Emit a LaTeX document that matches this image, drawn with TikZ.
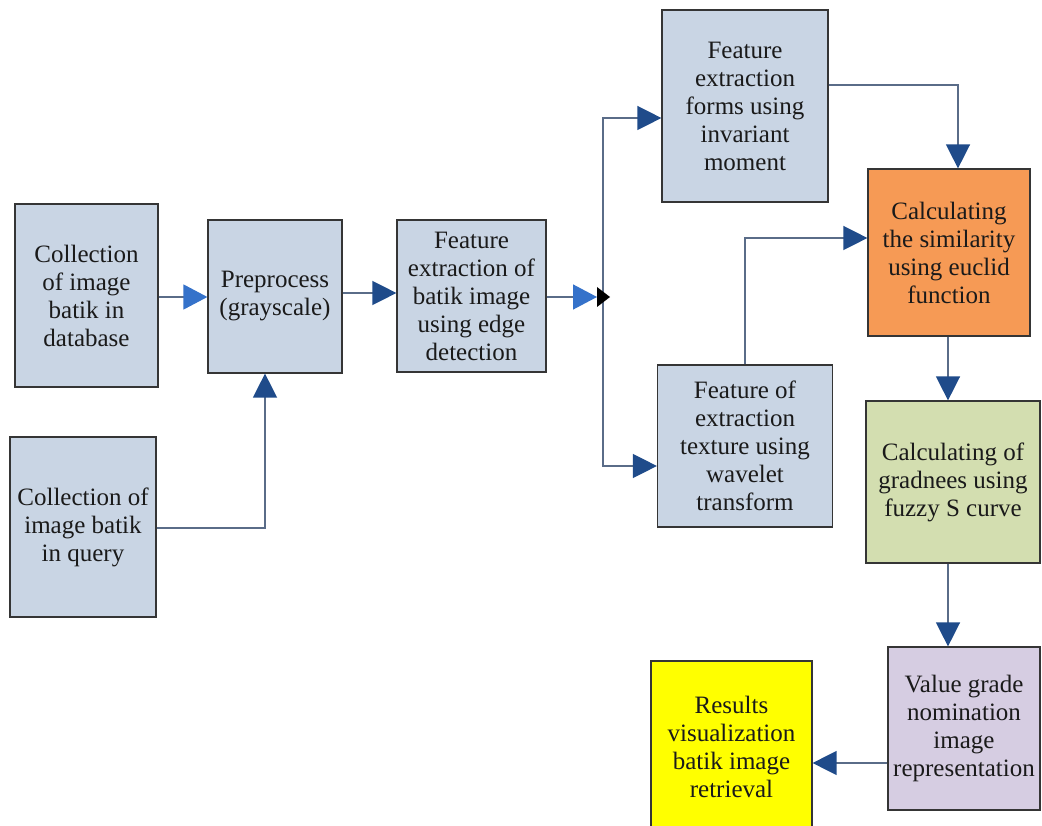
\documentclass[tikz,border=0pt]{standalone}
\usepackage{fontspec}
\setmainfont{Liberation Serif}
\usetikzlibrary{arrows.meta}
\definecolor{boxblue}{HTML}{C9D5E4}
\definecolor{boxorange}{HTML}{F69A55}
\definecolor{boxgreen}{HTML}{D3DEB0}
\definecolor{boxpurple}{HTML}{D6CDE2}
\definecolor{boxyellow}{HTML}{FFFF00}
\definecolor{boxline}{HTML}{353535}
\definecolor{linecol}{HTML}{5A6C88}
\definecolor{tipdark}{HTML}{1F4B8A}
\definecolor{tiplight}{HTML}{3572CA}
\definecolor{textcol}{HTML}{1A1A1A}
\begin{document}
\begin{tikzpicture}[x=1pt,y=-1pt,
  box/.style={draw=boxline, line width=1.2pt, fill=boxblue, align=center, inner sep=0pt,
    font=\fontsize{25}{28}\selectfont, text=textcol},
  conn/.style={draw=linecol, line width=1.4pt},
  tipd/.style={-{Triangle[length=24pt,width=24pt,color=tipdark,fill=tipdark]}},
  tipl/.style={-{Triangle[length=24pt,width=25pt,color=tiplight,fill=tiplight]}}
]
\useasboundingbox (0,0) rectangle (1042,826);

\node[box, minimum width=143pt, minimum height=183pt] (A) at (86.5,295.5) {Collection\\of image\\batik in\\database};
\node[box, minimum width=134pt, minimum height=153pt] (B) at (275,296.5) {Preprocess\\(grayscale)};
\node[box, minimum width=146pt, minimum height=180pt] (Q) at (83,527) {Collection of\\image batik\\in query};
\node[box, minimum width=149pt, minimum height=152pt] (C) at (471.5,296) {Feature\\extraction of\\batik image\\using edge\\detection};
\node[box, minimum width=166pt, minimum height=192pt] (D) at (745,106) {Feature\\extraction\\forms using\\invariant\\moment};
\node[box, minimum width=175pt, minimum height=162pt] (E) at (745,446) {Feature of\\extraction\\texture using\\wavelet\\transform};
\node[box, fill=boxorange, minimum width=162pt, minimum height=167pt] (F) at (949,252.5) {Calculating\\the similarity\\using euclid\\function};
\node[box, fill=boxgreen, minimum width=174pt, minimum height=162pt] (G) at (953,482) {Calculating of\\gradnees using\\fuzzy S curve};
\node[box, fill=boxpurple, minimum width=152pt, minimum height=163pt] (H) at (964,728.5) {Value grade\\nomination\\image\\representation};
\node[box, fill=boxyellow, minimum width=161pt, minimum height=172pt] (R) at (731.5,747) {Results\\visualization\\batik image\\retrieval};

% connectors
\draw[conn,tipl] (A.east |- 0,297) -- (B.west |- 0,297);
\draw[conn,tipd] (Q.east |- 0,528) -| (265,0 |- B.south);
\draw[conn,tipd] (B.east |- 0,293) -- (C.west |- 0,293);

\coordinate (J) at (603,297);
\coordinate (Jt) at (597,297);
\coordinate (Jtop) at (603,118);
\coordinate (Jbot) at (603,466);
\draw[conn,tipd] (J) -- (Jtop) -- (D.west |- Jtop);
\draw[conn,tipd] (J) -- (Jbot) -- (E.west |- Jbot);
\draw[conn,tipl] (C.east |- 0,297) -- (Jt);
\fill[black] (597,287) -- (610,297) -- (597,307) -- cycle;

\draw[conn,tipd] (D.east |- 0,85) -| (958,0 |- F.north);
\draw[conn,tipd] (745,0 |- E.north) |- (F.west |- 0,238);
\draw[conn,tipd] (948,0 |- F.south) -- (948,0 |- G.north);
\draw[conn,tipd] (948,0 |- G.south) -- (948,0 |- H.north);
\draw[conn,tipd] (H.west |- 0,763) -- (R.east |- 0,763);
\end{tikzpicture}
\end{document}
